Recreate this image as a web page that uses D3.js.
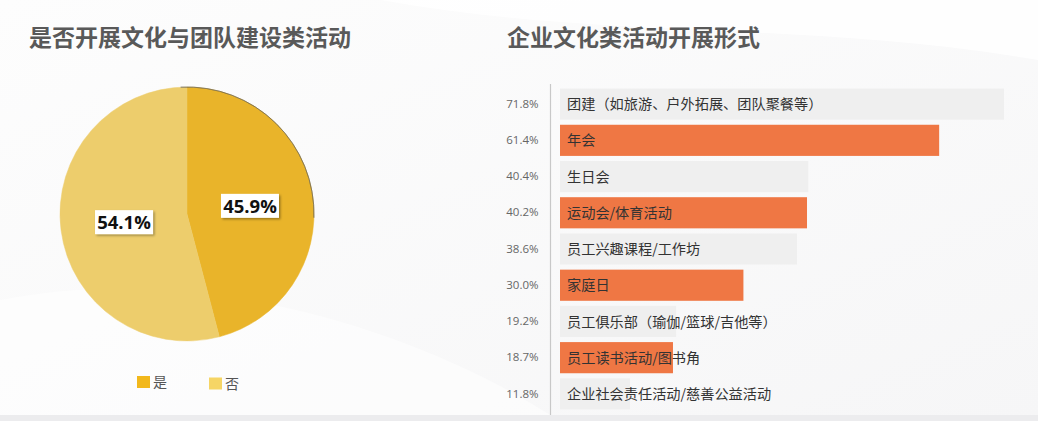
<!DOCTYPE html>
<html>
<head>
<meta charset="utf-8">
<script src="https://cdn.jsdelivr.net/npm/d3@7"></script>
<style>
  html, body { margin: 0; padding: 0; background: #f9f9fa; }
  svg { display: block; font-family: "Noto Sans CJK SC", "Noto Sans", sans-serif; }
</style>
</head>
<body>
<svg id="chart" width="1038" height="421"></svg>
<script>
"use strict";

// left pie
const pieLabels = ["是", "否"];
const pieValues = [45.9, 54.1];
const pieColors = ["#e9b42a", "#edcd6c"];
const legendColors = ["#f2b81c", "#f6d565"];

// right bars
const categories = [
  "团建（如旅游、户外拓展、团队聚餐等）",
  "年会",
  "生日会",
  "运动会/体育活动",
  "员工兴趣课程/工作坊",
  "家庭日",
  "员工俱乐部（瑜伽/篮球/吉他等）",
  "员工读书活动/图书角",
  "企业社会责任活动/慈善公益活动"
];
const barValues = [71.8, 61.4, 40.4, 40.2, 38.6, 30.0, 19.2, 18.7, 11.8];
const barColors = ["#efefef", "#ef7744"];

const svg = d3.select("#chart");

// background swooshes
const defs = svg.append("defs");
const bg = defs.append("linearGradient").attr("id", "bg").attr("x1", 0).attr("y1", 0).attr("x2", 1).attr("y2", 1);
bg.append("stop").attr("offset", "0%").attr("stop-color", "#fdfdfd");
bg.append("stop").attr("offset", "100%").attr("stop-color", "#f6f6f7");
svg.append("rect").attr("width", 1038).attr("height", 421).attr("fill", "url(#bg)");
svg.append("path")
  .attr("d", "M380,0 C600,40 800,20 1038,60 L1038,0 Z")
  .attr("fill", "#ffffff").attr("opacity", 0.8);
svg.append("path")
  .attr("d", "M0,300 C200,260 420,330 560,421 L0,421 Z")
  .attr("fill", "#ffffff").attr("opacity", 0.5);
svg.append("rect").attr("x", 0).attr("y", 415).attr("width", 1038).attr("height", 6).attr("fill", "#ececee");

// shadow for pie labels
const sh = defs.append("filter").attr("id", "sh").attr("x", "-20%").attr("y", "-20%").attr("width", "150%").attr("height", "160%");
sh.append("feDropShadow").attr("dx", 1.5).attr("dy", 1.5).attr("stdDeviation", 1).attr("flood-color", "#000").attr("flood-opacity", 0.35);

// titles
svg.append("text").attr("x", 29).attr("y", 46)
  .attr("font-size", 23).attr("font-weight", "bold").attr("fill", "#595959")
  .text("是否开展文化与团队建设类活动");
svg.append("text").attr("x", 507).attr("y", 46)
  .attr("font-size", 23).attr("font-weight", "bold").attr("fill", "#595959")
  .text("企业文化类活动开展形式");

// ---- pie ----
const cx = 187, cy = 214, r = 127;
const pie = d3.pie().sort(null)(pieValues);
const arc = d3.arc().innerRadius(0).outerRadius(r);
const gp = svg.append("g").attr("transform", `translate(${cx},${cy})`);
gp.selectAll("path.slice").data(pie).enter().append("path")
  .attr("class", "slice")
  .attr("d", arc)
  .attr("fill", (d, i) => pieColors[i])
  .attr("stroke", (d, i) => pieColors[i])
  .attr("stroke-width", 0.5);
// faint dark rim on the upper right edge
gp.append("path")
  .attr("d", d3.arc().innerRadius(r).outerRadius(r).startAngle(-0.05).endAngle(1.6)())
  .attr("fill", "none").attr("stroke", "#555").attr("stroke-width", 0.7).attr("opacity", 0.6);

const labelArc = d3.arc().innerRadius(r * 0.5).outerRadius(r * 0.5);
const lab = gp.selectAll("g.lab").data(pie).enter().append("g").attr("class", "lab")
  .attr("transform", (d) => {
    const c = labelArc.centroid(d);
    return `translate(${c[0]},${c[1]})`;
  });
lab.append("rect")
  .attr("x", -29).attr("y", -12).attr("width", 58).attr("height", 24)
  .attr("fill", "#fff").attr("filter", "url(#sh)");
lab.append("text")
  .attr("text-anchor", "middle").attr("dy", "0.36em")
  .attr("font-size", 18.5).attr("font-weight", "bold").attr("fill", "#111")
  .attr("font-family", "'Open Sans', 'Noto Sans', sans-serif")
  .text((d) => d.data.toFixed(1) + "%");

// legend
const lg = svg.append("g").attr("transform", "translate(137,376)");
const li = lg.selectAll("g").data(pieLabels).enter().append("g")
  .attr("transform", (d, i) => `translate(${i * 72},${i * 1.5})`);
li.append("rect").attr("width", 13).attr("height", 12).attr("fill", (d, i) => legendColors[i]);
li.append("text").attr("x", 16).attr("y", 11).attr("font-size", 14).attr("fill", "#555").text((d) => d);

// ---- bars ----
// bars start a little right of the scale origin, as in the original
const barStart = 560;
const x = d3.scaleLinear().domain([0, 71.8]).range([556.4, 1004]);
const y = d3.scaleBand().domain(categories).range([86, 412]).paddingInner(0.14).paddingOuter(0.07);

const pct = {};
categories.forEach((c, i) => { pct[c] = barValues[i].toFixed(1) + "%"; });

const ax = svg.append("g").attr("transform", "translate(550.5,0)")
  .call(d3.axisLeft(y).tickSize(0).tickSizeOuter(0).tickPadding(12).tickFormat((d) => pct[d]));
ax.select(".domain").attr("stroke", "#c8c8c8").attr("stroke-width", 1.2)
  .attr("d", "M0,84V415");
ax.selectAll("text").attr("font-size", 11.5).attr("fill", "#666")
  .attr("font-family", "'Open Sans', 'Noto Sans', sans-serif");

const gb = svg.append("g");
gb.selectAll("rect").data(categories).enter().append("rect")
  .attr("x", barStart)
  .attr("y", (d) => y(d))
  .attr("width", (d, i) => x(barValues[i]) - barStart)
  .attr("height", y.bandwidth())
  .attr("fill", (d, i) => barColors[i % 2]);
gb.selectAll("text").data(categories).enter().append("text")
  .attr("x", 567)
  .attr("y", (d) => y(d) + y.bandwidth() / 2)
  .attr("dy", "0.36em")
  .attr("font-size", 14.2).attr("fill", "#333")
  .text((d) => d);
</script>
</body>
</html>
